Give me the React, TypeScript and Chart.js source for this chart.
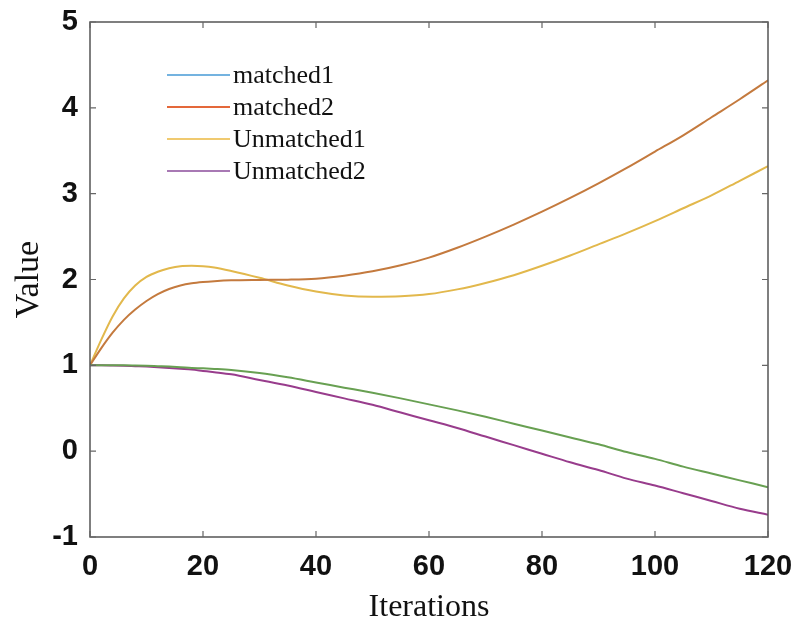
import React, { useEffect, useRef } from 'react';
import { Chart, registerables } from 'chart.js';

Chart.register(...registerables);

const iterations = [0, 2, 4, 6, 8, 10, 12, 14, 16, 18, 20, 22, 25, 30, 35, 40, 45, 50, 55, 60, 65, 70, 75, 80, 85, 90, 95, 100, 105, 110, 115, 120];

const seriesNames = ['matched1', 'matched2', 'Unmatched1', 'Unmatched2'];

const matched1 = [1.0, 1.0, 1.0, 1.0, 0.998, 0.995, 0.99, 0.985, 0.978, 0.97, 0.965, 0.958, 0.945, 0.91, 0.86, 0.8, 0.74, 0.68, 0.615, 0.545, 0.475, 0.4, 0.32, 0.24, 0.16, 0.08, -0.01, -0.09, -0.18, -0.26, -0.34, -0.42];
const matched2 = [1.0, 1.2, 1.38, 1.53, 1.65, 1.75, 1.83, 1.89, 1.93, 1.955, 1.97, 1.98, 1.99, 1.995, 1.998, 2.01, 2.045, 2.095, 2.165, 2.255, 2.37, 2.5, 2.64, 2.79, 2.95, 3.12, 3.3, 3.49, 3.68, 3.89, 4.1, 4.32];
const unmatched1 = [1.0, 1.3, 1.57, 1.78, 1.93, 2.03, 2.09, 2.13, 2.155, 2.16, 2.155, 2.14, 2.1, 2.02, 1.93, 1.86, 1.815, 1.8, 1.805, 1.83, 1.885, 1.96, 2.05, 2.16, 2.28, 2.41, 2.54, 2.68, 2.83, 2.98, 3.15, 3.32];
const unmatched2 = [1.0, 1.0, 0.998, 0.995, 0.99, 0.985, 0.978, 0.97, 0.96, 0.95, 0.935, 0.92, 0.895, 0.83, 0.765, 0.69, 0.615, 0.54, 0.45, 0.36, 0.27, 0.17, 0.07, -0.03, -0.13, -0.22, -0.32, -0.4, -0.49, -0.58, -0.67, -0.74];

const seriesValues = [matched1, matched2, unmatched1, unmatched2];
const lineColors = ['#68A052', '#C47A3E', '#E2B84C', '#983C8C'];
const legendColors = ['#74B3E0', '#E4683A', '#F0CA70', '#A879B4'];

const xTicks = [0, 20, 40, 60, 80, 100, 120];
const yTicks = [-1, 0, 1, 2, 3, 4, 5];

const tickFont = '"Liberation Sans", Arial, sans-serif';
const serifFont = '"Liberation Serif", "Times New Roman", serif';

const boxPlugin = {
  id: 'matlabBox',
  afterDatasetsDraw(chart: any) {
    const { ctx, chartArea, scales } = chart;
    const { left, right, top, bottom } = chartArea;
    const x = scales.x;
    const y = scales.y;
    ctx.save();
    ctx.strokeStyle = '#555555';
    ctx.lineWidth = 1.5;
    ctx.strokeRect(left, top, right - left, bottom - top);
    ctx.lineWidth = 1.2;
    ctx.strokeStyle = '#666666';
    const tl = 6;
    ctx.beginPath();
    xTicks.forEach((v) => {
      const px = x.getPixelForValue(v);
      ctx.moveTo(px, bottom);
      ctx.lineTo(px, bottom - tl);
      ctx.moveTo(px, top);
      ctx.lineTo(px, top + tl);
    });
    yTicks.forEach((v) => {
      const py = y.getPixelForValue(v);
      ctx.moveTo(left, py);
      ctx.lineTo(left + tl, py);
      ctx.moveTo(right, py);
      ctx.lineTo(right - tl, py);
    });
    ctx.stroke();

    // legend inside the plot area
    const lx0 = left + 77;
    const lx1 = left + 140;
    ctx.font = '26px ' + serifFont;
    ctx.textBaseline = 'middle';
    ctx.textAlign = 'left';
    seriesNames.forEach((name, i) => {
      const ly = top + 53 + i * 32;
      ctx.strokeStyle = legendColors[i];
      ctx.lineWidth = 2;
      ctx.beginPath();
      ctx.moveTo(lx0, ly);
      ctx.lineTo(lx1, ly);
      ctx.stroke();
      ctx.fillStyle = '#111111';
      ctx.fillText(name, lx1 + 3, ly + 1);
    });
    ctx.restore();
  },
};

export default function App() {
  const ref = useRef<HTMLCanvasElement | null>(null);

  useEffect(() => {
    document.body.style.margin = '0';
    const canvas = ref.current;
    if (!canvas) return;
    const datasets = seriesNames.map((name, i) => ({
      label: name,
      data: iterations.map((it, j) => ({ x: it, y: seriesValues[i][j] })),
      borderColor: lineColors[i],
      backgroundColor: lineColors[i],
      borderWidth: 2,
      pointRadius: 0,
      fill: false,
      cubicInterpolationMode: 'monotone' as const,
    }));
    const chart = new Chart(canvas, {
      type: 'line',
      data: { datasets },
      plugins: [boxPlugin],
      options: {
        responsive: false,
        animation: false,
        layout: { padding: { top: 22, right: 27, left: 0, bottom: 0 } },
        plugins: {
          legend: { display: false },
          tooltip: { enabled: false },
        },
        scales: {
          x: {
            type: 'linear',
            min: 0,
            max: 120,
            afterFit: (s: any) => { s.height = 88; s.paddingLeft = 0; s.paddingRight = 0; },
            afterBuildTicks: (s: any) => { s.ticks = xTicks.map((v) => ({ value: v })); },
            grid: { display: false, drawTicks: false },
            border: { display: false },
            ticks: {
              padding: 13,
              color: '#111111',
              font: { family: tickFont, size: 29, weight: 'bold' },
              maxRotation: 0,
            },
            title: {
              display: true,
              text: 'Iterations',
              color: '#111111',
              font: { family: serifFont, size: 32, lineHeight: 1.1 },
              padding: { top: 0, bottom: 0 },
            },
          },
          y: {
            type: 'linear',
            min: -1,
            max: 5,
            afterFit: (s: any) => { s.width = 90; s.paddingTop = 0; s.paddingBottom = 0; },
            afterBuildTicks: (s: any) => { s.ticks = yTicks.map((v) => ({ value: v })); },
            grid: { display: false, drawTicks: false },
            border: { display: false },
            ticks: {
              padding: 12,
              color: '#111111',
              font: { family: tickFont, size: 29, weight: 'bold' },
            },
            title: {
              display: true,
              text: 'Value',
              color: '#111111',
              font: { family: serifFont, size: 34 },
              padding: { top: 9, bottom: 0 },
            },
          },
        },
      },
    });
    return () => chart.destroy();
  }, []);

  return (
    <div style={{ width: 795, height: 625, background: '#ffffff' }}>
      <canvas ref={ref} width={795} height={625} style={{ width: 795, height: 625, display: 'block' }} />
    </div>
  );
}
